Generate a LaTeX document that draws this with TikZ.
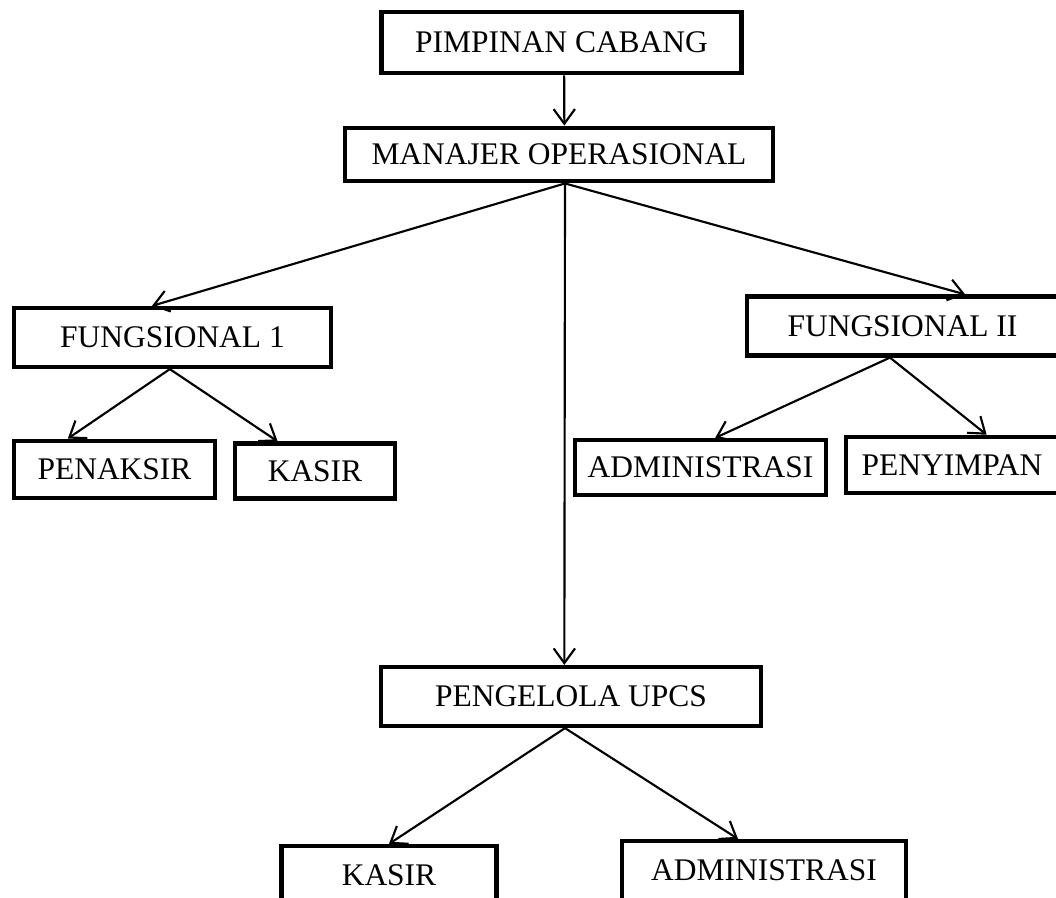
\documentclass[tikz,border=0pt]{standalone}
\usepackage{fontspec}
\setmainfont{Liberation Serif}
\usepackage{tikz}
\usetikzlibrary{arrows.meta,positioning}

\begin{document}
\begin{tikzpicture}[
  x=0.75pt, y=-0.75pt,
  box/.style={draw, rectangle, line width=3.4pt, inner sep=0pt, align=center,
    font=\fontsize{23.6}{28}\selectfont},
  arr/.style={-{Straight Barb[length=11pt,width=16pt]}, line width=1.6pt}]
\useasboundingbox (0,0) rectangle (1056,897);
\clip (0,0) rectangle (1056,897);
% pimpinan dan manajer
\node[box, minimum width=270pt, minimum height=46pt] (pimpinan) at (561.5,42.5) {PIMPINAN CABANG};
\node[box, minimum width=321pt, minimum height=40pt] (manajer) at (559,154.5) {MANAJER OPERASIONAL};
% fungsional
\node[box, minimum width=238pt, minimum height=44pt] (fung1) at (172.5,337.5) {FUNGSIONAL 1};
\node[box, minimum width=233pt, minimum height=44pt] (fung2) at (902.5,326) {FUNGSIONAL II};
\node[box, minimum width=151pt, minimum height=43pt] (penaksir) at (114.5,469.5) {PENAKSIR};
\node[box, minimum width=120pt, minimum height=41pt] (kasir1) at (315,471) {KASIR};
\node[box, minimum width=188pt, minimum height=41pt] (admin1) at (700.5,467.5) {ADMINISTRASI};
\node[box, minimum width=159pt, minimum height=42pt] (penyimpan) at (952,465) {PENYIMPAN};
% upcs
\node[box, minimum width=285pt, minimum height=44pt] (pengelola) at (571,696.5) {PENGELOLA UPCS};
\node[box, minimum width=161pt, minimum height=44pt] (kasir2) at (389,875.5) {KASIR};
\node[box, minimum width=213pt, minimum height=44pt] (admin2) at (764,870.5) {ADMINISTRASI};
% garis
\draw[arr] ([xshift=2pt]pimpinan.south) -- ([xshift=4pt]manajer.north);
\draw[arr] ([xshift=4.5pt]manajer.south) -- ([xshift=-15.4pt]fung1.north);
\draw[arr] ([xshift=4.5pt]manajer.south) -- ([xshift=47pt]fung2.north);
\draw[arr] ([xshift=4.5pt]manajer.south) -- ([xshift=-5pt]pengelola.north);
\draw[arr] ([xshift=-2pt]fung1.south) -- ([xshift=-35pt]penaksir.north);
\draw[arr] ([xshift=-2pt]fung1.south) -- ([xshift=-28pt]kasir1.north);
\draw[arr] ([xshift=-9.4pt]fung2.south) -- ([xshift=11pt]admin1.north);
\draw[arr] ([xshift=-9.4pt]fung2.south) -- ([xshift=26pt]penyimpan.north);
\draw[arr] ([xshift=-4.5pt]pengelola.south) -- (kasir2.north);
\draw[arr] ([xshift=-4.5pt]pengelola.south) -- ([xshift=-19.5pt]admin2.north);
\end{tikzpicture}
\end{document}
